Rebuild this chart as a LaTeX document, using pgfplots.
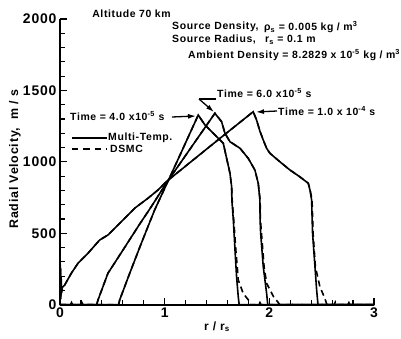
\documentclass[border=0pt]{standalone}
\usepackage{pgfplots}
\pgfplotsset{compat=1.18}
\usepackage{fontspec}
\setmainfont{Liberation Sans}[LetterSpace=6]
\usetikzlibrary{arrows.meta}
\begin{document}
\begin{tikzpicture}
\begin{axis}[
  name=ax, scale only axis, width=314bp, height=285.7bp,
  xmin=0, xmax=3, ymin=0, ymax=2000,
  axis x line*=bottom, axis y line*=left,
  xtick={0,1,2,3}, ytick={0,500,1000,1500,2000},
  minor x tick num=4, minor y tick num=4,
  tick align=inside,
  major tick length=7bp, minor tick length=5bp,
  every tick/.style={line width=1.2bp, black},
  axis line style={line width=1.6bp},
  tick label style={font=\fontsize{14}{14}\selectfont\bfseries},
  /pgf/number format/assume math mode=true,
  /pgf/number format/1000 sep={},
  xlabel={r / r\textsubscript{s}},
  xlabel style={font=\fontsize{12}{12}\selectfont\bfseries, at={(axis description cs:0.5,-0.077)}, anchor=center},
  clip=false,
]
% Multi-Temp (solid)
\addplot[black, line width=1.6bp] coordinates {
(0,0) (0.004,280) (0.007,40) (0.010,200) (0.013,80) (0.02,120) (0.045,138) (0.108,220) (0.172,290) (0.267,360) (0.379,453) (0.458,488) (0.570,570) (0.713,675) (0.840,745) (0.936,803) (1.015,861) (1.24,994) (1.5,1148) (1.846,1351) (1.878,1293) (1.91,1215) (1.942,1153) (1.974,1095) (2.006,1060) (2.1,1001) (2.197,943) (2.29,896) (2.372,850) (2.388,803) (2.404,733) (2.413,500) (2.436,266) (2.452,103) (2.465,0) (3,0)};
\addplot[black, line width=1.6bp] coordinates {
(0,0) (0.35,0) (0.363,33) (0.458,220) (0.602,383) (0.745,546) (0.872,686) (1.015,850) (1.24,1087) (1.48,1340) (1.544,1281) (1.576,1200) (1.624,1141) (1.72,1095) (1.798,1025) (1.862,943) (1.894,850) (1.91,733) (1.912,593) (1.917,500) (1.942,266) (1.974,80) (1.985,0) (3,0)};
\addplot[black, line width=1.6bp] coordinates {
(0,0) (0.56,0) (0.57,33) (0.666,220) (0.777,430) (0.904,663) (1.015,838) (1.17,1085) (1.321,1328) (1.385,1258) (1.464,1200) (1.56,1130) (1.592,1025) (1.624,920) (1.64,826) (1.642,733) (1.656,593) (1.672,383) (1.687,196) (1.703,56) (1.712,0) (3,0)};
% DSMC (dashed)
\addplot[black, line width=1.6bp, dash pattern=on 6bp off 4bp] coordinates {
(0,0) (0.005,250) (0.008,60) (0.012,180) (0.016,90) (0.025,115) (0.045,138) (0.108,220) (0.172,290) (0.267,360) (0.379,453) (0.458,488) (0.570,570) (0.713,675) (0.840,745) (0.936,803) (1.015,861) (1.24,994) (1.5,1148) (1.846,1351) (1.878,1293) (1.91,1215) (1.942,1153) (1.974,1095) (2.006,1060) (2.1,1001) (2.197,943) (2.29,896) (2.372,850) (2.39,803) (2.408,733) (2.418,500) (2.44,266) (2.483,126) (2.53,45) (2.55,0) (2.62,0) (2.63,18) (2.64,0) (2.75,0) (2.76,15) (2.77,0) (3,0)};
\addplot[black, line width=1.6bp, dash pattern=on 6bp off 4bp] coordinates {
(0,0) (0.2,0) (0.21,15) (0.22,0) (0.35,0) (0.363,33) (0.458,220) (0.602,383) (0.745,546) (0.872,686) (1.015,850) (1.24,1087) (1.48,1340) (1.544,1281) (1.576,1200) (1.624,1141) (1.72,1095) (1.798,1025) (1.862,943) (1.894,850) (1.912,733) (1.915,593) (1.925,500) (1.95,266) (1.974,150) (2.04,56) (2.08,20) (2.1,0) (2.2,0) (2.21,15) (2.22,0) (3,0)};
\addplot[black, line width=1.6bp, dash pattern=on 6bp off 4bp] coordinates {
(0,0) (0.1,0) (0.11,15) (0.12,0) (0.56,0) (0.57,33) (0.666,220) (0.777,430) (0.904,663) (1.015,838) (1.17,1085) (1.321,1328) (1.385,1258) (1.464,1200) (1.56,1130) (1.592,1025) (1.624,920) (1.64,826) (1.645,733) (1.66,593) (1.68,383) (1.695,250) (1.703,173) (1.75,80) (1.80,33) (1.82,0) (1.9,0) (1.91,15) (1.92,0) (3,0)};
\end{axis}
\begin{scope}[shift={([shift={(-60bp,304.7bp)}]ax.south west)}, x=1bp, y=-1bp]
  \pgfresetboundingbox
  \path[use as bounding box] (0,0) rectangle (401,339);
  \node[font=\fontsize{12.5}{12.5}\selectfont\bfseries, rotate=90] at (15,159) {Radial Velocity,\ \ m / s};
  \begin{scope}[every node/.style={font=\fontsize{10.5}{10.5}\selectfont\bfseries, inner sep=0pt}]
    \node[anchor=center] at (131.5,14) {Altitude 70 km};
    \node[anchor=west] at (172,27) {Source Density,};
    \node[anchor=west] at (264,27) {ρ\textsubscript{s} = 0.005 kg / m\textsuperscript{3}};
    \node[anchor=west] at (172,40) {Source Radius,};
    \node[anchor=west] at (265,40) {r\textsubscript{s} = 0.1 m};
    \node[anchor=west] at (188,55) {Ambient Density = 8.2829 x 10\textsuperscript{-5} kg / m\textsuperscript{3}};
    \node[anchor=west] at (217,93) {Time = 6.0 x10\textsuperscript{-5} s};
    \node[anchor=west] at (70,116) {Time = 4.0 x10\textsuperscript{-5} s};
    \node[anchor=west] at (278,111) {Time = 1.0 x 10\textsuperscript{-4} s};
    \node[anchor=west] at (108,138) {Multi-Temp.};
    \node[anchor=west] at (110,149) {DSMC};
  \end{scope}
  \draw[line width=1.3bp, -{Latex[length=8bp,width=5bp]}] (172,117) -- (196,116);
  \draw[line width=1.3bp] (216,99) -- (199,99);
  \draw[line width=1.3bp, -{Latex[length=8bp,width=5bp]}] (199,99) -- (214,112);
  \draw[line width=1.3bp, -{Latex[length=8bp,width=5bp]}] (277,111) -- (256,112);
  \draw[line width=1.6bp] (72,138) -- (107,138);
  \draw[line width=1.6bp, dash pattern=on 6.5bp off 5bp] (72,149) -- (107,149);
\end{scope}
\end{tikzpicture}
\end{document}
